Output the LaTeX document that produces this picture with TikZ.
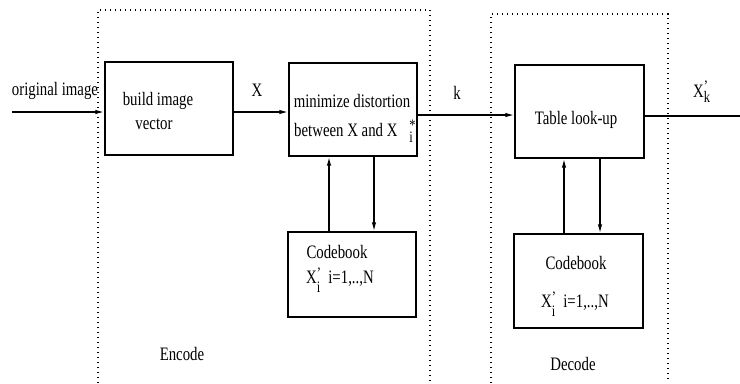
\documentclass[tikz,border=0pt]{standalone}
\usepackage{fontspec}
\setmainfont{Liberation Serif}[FakeStretch=0.78]
\usetikzlibrary{arrows.meta}
\tikzset{
  blk/.style={draw, line width=1.3bp, inner sep=0pt},
  arr/.style={line width=1.4bp, -{Latex[length=9bp,width=4.5bp]}},
  ln/.style={line width=1.4bp},
  dots/.style={line width=1.4bp, dash pattern=on 1.2bp off 3.8bp},
  txt/.style={inner sep=0pt, font=\fontsize{19bp}{22bp}\selectfont},
}
\newcommand{\stk}[4]{\makebox[0pt][l]{\raisebox{#1}{\fontsize{16bp}{16bp}\selectfont #2}}\raisebox{#3}{\fontsize{16bp}{16bp}\selectfont #4}}
\begin{document}
\begin{tikzpicture}[x=1bp,y=-1bp]
\useasboundingbox (0,0) rectangle (740,383);
% dotted frames
\draw[dots] (98,383) -- (98,10) -- (430,10) -- (430,383);
\draw[dots] (491,383) -- (491,14) -- (668,14) -- (668,383);
% boxes
\node[blk, minimum width=128bp, minimum height=93bp] (bv) at (169,108.5) {};
\node[blk, minimum width=128bp, minimum height=93bp] (md) at (353,109.5) {};
\node[blk, minimum width=128bp, minimum height=85bp] (cb1) at (352,274.5) {};
\node[blk, minimum width=129bp, minimum height=93bp] (tl) at (579.5,111.5) {};
\node[blk, minimum width=129bp, minimum height=94bp] (cb2) at (578.5,281) {};
% texts
\node[txt] (t1) at (55,91) {original image};
\node[txt] (t2) at (257,90) {X};
\node[txt] (t3) at (457,93) {k};
\node[txt, anchor=base west] (t4) at (693,97) {X\stk{6bp}{'}{-5bp}{k}};
\node[txt] (t5) at (158,101) {build image};
\node[txt] (t6) at (154,124) {vector};
\node[txt] (t7) at (352,101) {minimize distortion};
\node[txt, anchor=base west] (t8) at (294,136) {between X and X\hspace{12bp}\stk{6bp}{*}{-6bp}{i}};
\node[txt] (t9) at (576,120) {Table look-up};
\node[txt] (t10) at (337,252) {Codebook};
\node[txt, anchor=base west] (t11) at (306,283) {X\stk{5bp}{'}{-9bp}{i}\hspace{8bp}i=1,..,N};
\node[txt] (t12) at (576,263) {Codebook};
\node[txt, anchor=base west] (t13) at (541,307) {X\stk{5bp}{'}{-9bp}{i}\hspace{8bp}i=1,..,N};
\node[txt] (t14) at (182,354) {Encode};
\node[txt] (t15) at (573,364) {Decode};
% connectors
\coordinate (in) at (12,112);
\coordinate (out) at (740,116);
\draw[arr] (in) -- (in -| bv.west);
\draw[arr] ([yshift=-3.5bp]bv.east) -- ([yshift=-3.5bp]bv.east -| md.west);
\draw[arr] ([yshift=-5.5bp]md.east) -- ([yshift=-5.5bp]md.east -| tl.west);
\draw[ln] (out -| tl.east) -- (out);
\draw[arr] ([xshift=-23bp]cb1.north) -- ([xshift=-23bp]cb1.north |- md.south);
\draw[arr] ([xshift=21bp]md.south) -- ([xshift=21bp]md.south |- cb1.north);
\draw[arr] ([xshift=-14.5bp]cb2.north) -- ([xshift=-14.5bp]cb2.north |- tl.south);
\draw[arr] ([xshift=20.5bp]tl.south) -- ([xshift=20.5bp]tl.south |- cb2.north);
\end{tikzpicture}
\end{document}
